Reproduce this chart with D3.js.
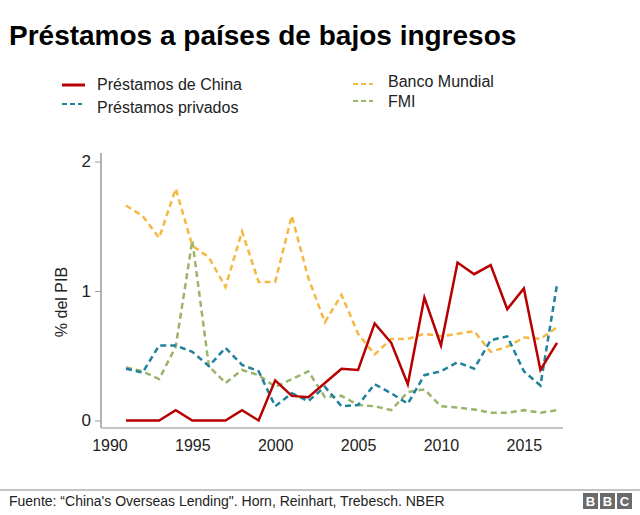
<!DOCTYPE html>
<html>
<head>
<meta charset="utf-8">
<script src="https://cdn.jsdelivr.net/npm/d3@7"></script>
<style>
  body { margin: 0; background: #fff; }
  text { font-family: "Liberation Sans", Arial, Helvetica, sans-serif; }
</style>
</head>
<body>
<div id="chart"></div>
<script>

// ---- data ----------------------------------------------------------

const years = [1991, 1992, 1993, 1994, 1995, 1996, 1997, 1998, 1999, 2000,
               2001, 2002, 2003, 2004, 2005, 2006, 2007, 2008, 2009, 2010,
               2011, 2012, 2013, 2014, 2015, 2016, 2017];

const china = [0, 0, 0, 0.08, 0, 0, 0, 0.08, 0, 0.31,
               0.19, 0.18, 0.29, 0.40, 0.39, 0.75, 0.60, 0.28, 0.95, 0.58,
               1.22, 1.13, 1.20, 0.86, 1.02, 0.39, 0.60];

const privados = [0.40, 0.37, 0.58, 0.58, 0.53, 0.42, 0.56, 0.43, 0.38, 0.11,
                  0.21, 0.15, 0.26, 0.11, 0.12, 0.28, 0.21, 0.13, 0.35, 0.38,
                  0.45, 0.40, 0.62, 0.65, 0.38, 0.27, 1.05];

const bancoMundial = [1.66, 1.58, 1.41, 1.79, 1.35, 1.26, 1.03, 1.46, 1.07, 1.07,
                      1.58, 1.10, 0.76, 0.97, 0.67, 0.51, 0.63, 0.63, 0.67, 0.65,
                      0.67, 0.69, 0.53, 0.57, 0.64, 0.63, 0.72];

const fmi = [0.41, 0.38, 0.32, 0.57, 1.39, 0.42, 0.29, 0.39, 0.35, 0.26,
             0.32, 0.38, 0.18, 0.19, 0.12, 0.11, 0.08, 0.22, 0.24, 0.11,
             0.10, 0.085, 0.06, 0.06, 0.08, 0.06, 0.08];

const xTicks = [1990, 1995, 2000, 2005, 2010, 2015];
const yTicks = [0, 1, 2];

const seriesNames = ["Préstamos de China", "Préstamos privados", "Banco Mundial", "FMI"];

// ---- layout ---------------------------------------------------------

const W = 640;
const H = 515;

const AXIS_X = 101;
const AXIS_Y = 428;
const AXIS_TOP = 153;
const AXIS_RIGHT = 563;

const COLOR_CHINA = "#b80000";
const COLOR_PRIV = "#1f819b";
const COLOR_BM = "#f5b840";
const COLOR_FMI = "#9ab56b";
const COLOR_AXIS = "#999999";

// -------------------------------------------------------------------

let svg = d3.select("#chart")
            .append("svg")
                .attr("width", W)
                .attr("height", H);

svg.append("rect")
        .attr("width", W)
        .attr("height", H)
        .attr("fill", "#ffffff");

let scaleX = d3.scaleLinear()
                .domain([1991, 2017])
                .range([126, 557]);

let scaleY = d3.scaleLinear()
                .domain([0, 2])
                .range([420.5, 161.5]);

// ---- title ---------------------------------------------------------

svg.append("text")
        .attr("x", 9)
        .attr("y", 45)
        .attr("font-size", "28px")
        .attr("font-weight", "bold")
        .attr("fill", "#000")
        .text("Préstamos a países de bajos ingresos");

// ---- legend --------------------------------------------------------

let legend = [
    { name: seriesNames[0], color: COLOR_CHINA, dash: null, x: 62, y: 85, ty: 90 },
    { name: seriesNames[1], color: COLOR_PRIV, dash: "5,3", x: 62, y: 104, ty: 113 },
    { name: seriesNames[2], color: COLOR_BM, dash: "5,3", x: 353, y: 84, ty: 87 },
    { name: seriesNames[3], color: COLOR_FMI, dash: "5,3", x: 353, y: 101, ty: 107 }
];

legend.forEach(function (d) {
    svg.append("line")
            .attr("x1", d.x)
            .attr("x2", d.x + (d.dash ? 20 : 23))
            .attr("y1", d.y)
            .attr("y2", d.y)
            .attr("stroke", d.color)
            .attr("stroke-width", d.dash ? 2 : 3)
            .attr("stroke-dasharray", d.dash);

    svg.append("text")
            .attr("x", d.x > 300 ? 388 : 97)
            .attr("y", d.ty)
            .attr("font-size", "16px")
            .attr("fill", "#222")
            .text(d.name);
});

// ---- axes ------------------------------------------------------------

svg.append("line")
        .attr("x1", AXIS_X)
        .attr("x2", AXIS_X)
        .attr("y1", AXIS_TOP)
        .attr("y2", AXIS_Y)
        .attr("stroke", COLOR_AXIS)
        .attr("stroke-width", 1.5);

svg.append("line")
        .attr("x1", AXIS_X)
        .attr("x2", AXIS_RIGHT)
        .attr("y1", AXIS_Y)
        .attr("y2", AXIS_Y)
        .attr("stroke", "#b0b0b0")
        .attr("stroke-width", 1.5);

let yAxis = svg.append("g")
        .attr("transform", "translate(" + AXIS_X + ",0)")
        .call(d3.axisLeft(scaleY).tickValues(yTicks).tickSize(6).tickPadding(4).tickFormat(d3.format("d")));

yAxis.select(".domain").remove();
yAxis.selectAll(".tick line").attr("stroke", COLOR_AXIS);
yAxis.selectAll(".tick text")
        .attr("font-size", "17px")
        .attr("fill", "#222")
        .style("font-family", "'Liberation Sans', Arial, sans-serif");

let xAxis = svg.append("g")
        .attr("transform", "translate(0," + AXIS_Y + ")")
        .call(d3.axisBottom(scaleX).tickValues(xTicks).tickSize(0).tickPadding(12).tickFormat(d3.format("d")));

xAxis.select(".domain").remove();
xAxis.selectAll(".tick text")
        .attr("font-size", "16px")
        .attr("fill", "#222")
        .style("font-family", "'Liberation Sans', Arial, sans-serif");

svg.append("text")
        .attr("transform", "translate(67,302) rotate(-90)")
        .attr("text-anchor", "middle")
        .attr("font-size", "16px")
        .attr("fill", "#222")
        .text("% del PIB");

// ---- lines -----------------------------------------------------------

let line = d3.line()
            .x(function (d, i) { return scaleX(years[i]); })
            .y(function (d) { return scaleY(d); });

let series = [
    { values: fmi, color: COLOR_FMI, dash: "6,4", width: 2.5 },
    { values: bancoMundial, color: COLOR_BM, dash: "6,4", width: 2.5 },
    { values: privados, color: COLOR_PRIV, dash: "6,4", width: 2.5 },
    { values: china, color: COLOR_CHINA, dash: null, width: 2.5 }
];

series.forEach(function (s) {
    svg.append("path")
            .attr("d", line(s.values))
            .attr("fill", "none")
            .attr("stroke", s.color)
            .attr("stroke-width", s.width)
            .attr("stroke-dasharray", s.dash)
            .attr("stroke-linejoin", "miter");
});

// ---- footer ------------------------------------------------------------

svg.append("line")
        .attr("x1", 0)
        .attr("x2", W)
        .attr("y1", 490)
        .attr("y2", 490)
        .attr("stroke", "#c4c4c4")
        .attr("stroke-width", 2);

svg.append("text")
        .attr("x", 9)
        .attr("y", 506)
        .attr("font-size", "14px")
        .attr("fill", "#222")
        .text("Fuente: “China's Overseas Lending\". Horn, Reinhart, Trebesch. NBER");

["B", "B", "C"].forEach(function (ch, i) {
    svg.append("rect")
            .attr("x", 583 + i * 17)
            .attr("y", 493)
            .attr("width", 15)
            .attr("height", 16)
            .attr("fill", "#6b6b6b");
    svg.append("text")
            .attr("x", 583 + i * 17 + 7.5)
            .attr("y", 506)
            .attr("text-anchor", "middle")
            .attr("font-size", "13px")
            .attr("font-weight", "bold")
            .attr("fill", "#fff")
            .text(ch);
});

</script>
</body>
</html>
